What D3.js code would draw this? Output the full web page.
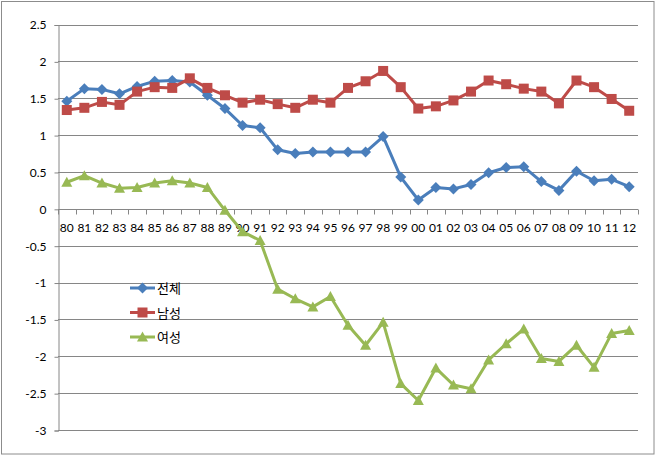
<!DOCTYPE html>
<html><head><meta charset="utf-8">
<script src="https://cdn.jsdelivr.net/npm/d3@7"></script>
<style>body{margin:0;background:#fff}svg{display:block}</style>
</head><body><svg id="c" width="657" height="456"></svg>
<script>
const categories = ["80","81","82","83","84","85","86","87","88","89","90","91","92","93","94","95","96","97","98","99","00","01","02","03","04","05","06","07","08","09","10","11","12"];
const total = [1.46,1.63,1.62,1.56,1.66,1.73,1.74,1.72,1.54,1.36,1.13,1.10,0.80,0.75,0.77,0.77,0.77,0.77,0.98,0.43,0.12,0.29,0.27,0.33,0.49,0.56,0.57,0.37,0.25,0.51,0.38,0.40,0.30];
const male = [1.34,1.37,1.45,1.41,1.59,1.65,1.64,1.77,1.64,1.54,1.44,1.48,1.42,1.37,1.48,1.44,1.64,1.73,1.87,1.65,1.36,1.39,1.47,1.59,1.74,1.69,1.63,1.59,1.43,1.74,1.65,1.49,1.33];
const female = [0.36,0.45,0.35,0.28,0.29,0.35,0.38,0.35,0.29,-0.02,-0.31,-0.43,-1.09,-1.22,-1.33,-1.19,-1.58,-1.85,-1.54,-2.37,-2.60,-2.16,-2.39,-2.44,-2.05,-1.83,-1.63,-2.03,-2.07,-1.85,-2.15,-1.69,-1.65];
const yTicks = [2.5,2,1.5,1,0.5,0,-0.5,-1,-1.5,-2,-2.5,-3];
const seriesNames = ["전체","남성","여성"];

const series = [
  {name: seriesNames[0], values: total, color: "#4A7EBB", shape: "diamond"},
  {name: seriesNames[1], values: male, color: "#BE4B48", shape: "square"},
  {name: seriesNames[2], values: female, color: "#98B954", shape: "triangle"}
];

const svg = d3.select("#c");
const font = "Lato, 'Open Sans', 'Noto Sans', sans-serif";
const L = 58, R = 638, T = 24.5, B = 430;

svg.append("rect").attr("x",1.5).attr("y",1.5).attr("width",652.5).attr("height",452.5)
  .attr("fill","#fff").attr("stroke","#8c8c8c").attr("stroke-width",1);

const x = d3.scaleBand().domain(categories).range([L, R]);
const y = d3.scaleLinear().domain([-3, 2.5]).range([B, T]);

// gridlines
svg.append("g").selectAll("line").data(yTicks).join("line")
  .attr("x1", L).attr("x2", R)
  .attr("y1", d => Math.round(y(d)) + 0.5).attr("y2", d => Math.round(y(d)) + 0.5)
  .attr("stroke", "#868686").attr("stroke-width", 1);

// y axis
const yAxis = d3.axisLeft(y).tickValues(yTicks).tickSize(4).tickPadding(8).tickFormat(d => String(d));
const gy = svg.append("g").attr("transform", `translate(${L+0.5},0.5)`).call(yAxis);
gy.select(".domain").attr("stroke", "#868686");
gy.selectAll(".tick line").attr("stroke", "#868686");
gy.selectAll(".tick text").attr("font-family", font).attr("font-size", 12).attr("fill", "#000");

// x axis at zero
const y0 = Math.round(y(0)) + 0.5;
const gx = svg.append("g").attr("transform", `translate(0,${y0})`);
gx.append("line").attr("x1", L).attr("x2", R).attr("stroke", "#868686");
const bounds = d3.range(categories.length + 1).map(i => L + i * x.step());
gx.selectAll("line.tk").data(bounds).join("line").attr("class","tk")
  .attr("x1", d => Math.round(d) + 0.5).attr("x2", d => Math.round(d) + 0.5)
  .attr("y1", 0).attr("y2", 5).attr("stroke", "#868686");
gx.selectAll("text").data(categories).join("text")
  .attr("x", d => x(d) + x.bandwidth() / 2).attr("y", 22)
  .attr("text-anchor", "middle").attr("font-family", font).attr("font-size", 12).attr("fill", "#000")
  .text(d => d);

function marker(g, shape, color, cx, cy) {
  if (shape === "diamond") {
    g.append("path").attr("d", `M${cx},${cy-5.5}L${cx+5.5},${cy}L${cx},${cy+5.5}L${cx-5.5},${cy}Z`).attr("fill", color);
  } else if (shape === "square") {
    g.append("rect").attr("x", cx-5).attr("y", cy-5).attr("width", 10).attr("height", 10).attr("fill", color);
  } else {
    g.append("path").attr("d", `M${cx},${cy-5.5}L${cx+5.5},${cy+4.5}L${cx-5.5},${cy+4.5}Z`).attr("fill", color);
  }
}

const line = d3.line().x((d,i) => x(categories[i]) + x.bandwidth()/2).y(d => y(d));
series.forEach(s => {
  const g = svg.append("g");
  g.append("path").attr("d", line(s.values)).attr("fill", "none")
    .attr("stroke", s.color).attr("stroke-width", 3).attr("stroke-linejoin", "round");
  s.values.forEach((v, i) => marker(g, s.shape, s.color, x(categories[i]) + x.bandwidth()/2, y(v)));
});

// legend
series.forEach((s, i) => {
  const ly = 288 + i * 24.5;
  const g = svg.append("g");
  g.append("line").attr("x1", 130).attr("x2", 155).attr("y1", ly).attr("y2", ly)
    .attr("stroke", s.color).attr("stroke-width", 3);
  marker(g, s.shape, s.color, 142.5, ly);
  g.append("text").attr("x", 157).attr("y", ly + 5).attr("font-family", "'Noto Sans CJK KR', sans-serif")
    .attr("font-size", 13).attr("fill", "#000").text(s.name);
});
</script></body></html>
